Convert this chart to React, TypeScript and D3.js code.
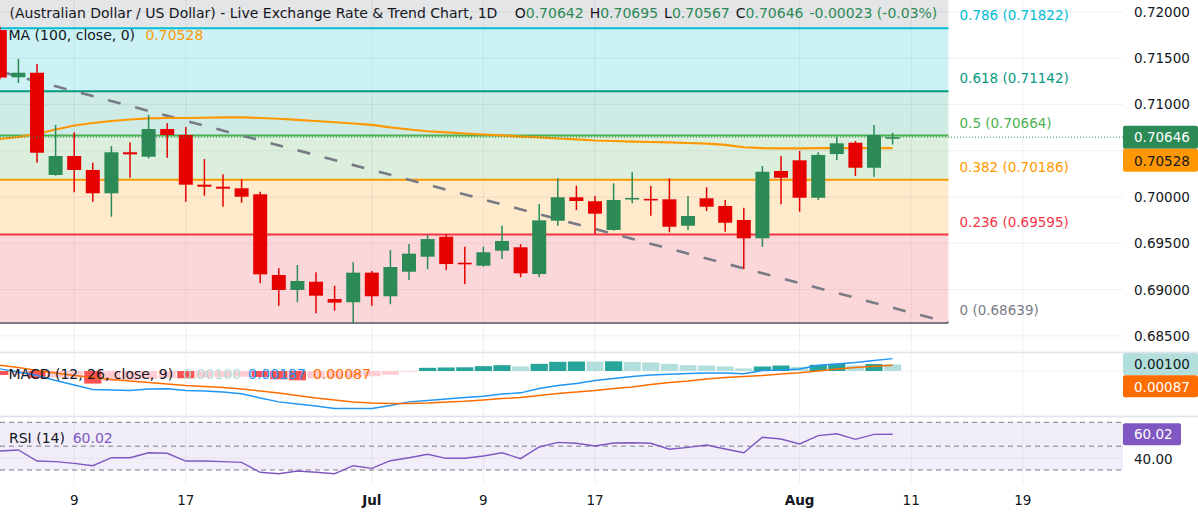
import React from "react";
import * as d3 from "d3";

const W = 1198;
const H = 517;

// ---------- data ----------
const opens = [
  0.71803, 0.71293, 0.71342, 0.70238, 0.70443, 0.70292, 0.7004, 0.70483, 0.70435, 0.70734,
  0.7067, 0.70133, 0.70111, 0.70094, 0.70029, 0.69158, 0.68996, 0.69085, 0.68898, 0.68863,
  0.69183, 0.68928, 0.69193, 0.69355, 0.69571, 0.6929, 0.69258, 0.6942, 0.69457, 0.69168,
  0.69744, 0.69997, 0.69954, 0.69644, 0.6998, 0.6998, 0.69975, 0.6969, 0.69986, 0.69903,
  0.69752, 0.69554, 0.70281, 0.70396, 0.69992, 0.70464, 0.70586, 0.70316, 0.70642,
];
const highs = [
  0.7184, 0.7149, 0.71436, 0.70778, 0.70699, 0.7037, 0.70551, 0.70591, 0.70886, 0.70796,
  0.70756, 0.7041, 0.70245, 0.70191, 0.70057, 0.6923, 0.69266, 0.69187, 0.69042, 0.69295,
  0.69201, 0.69428, 0.69492, 0.6959, 0.69597, 0.69463, 0.69463, 0.6969, 0.69492, 0.69924,
  0.70202, 0.70122, 0.70011, 0.70148, 0.70267, 0.70119, 0.70202, 0.70011, 0.70105, 0.69968,
  0.69884, 0.70335, 0.70443, 0.70497, 0.70483, 0.70651, 0.70605, 0.70778, 0.70695,
];
const lows = [
  0.7127, 0.71231, 0.7037, 0.7023, 0.70051, 0.69949, 0.69787, 0.70208, 0.70418, 0.70424,
  0.69949, 0.70014, 0.69895, 0.69938, 0.69068, 0.68826, 0.68863, 0.68744, 0.68772, 0.68636,
  0.68826, 0.68841, 0.69104, 0.69219, 0.69212, 0.6906, 0.69247, 0.6933, 0.69133, 0.69133,
  0.6969, 0.6986, 0.696, 0.69636, 0.69932, 0.69798, 0.69619, 0.69644, 0.69849, 0.69625,
  0.69222, 0.69463, 0.69921, 0.69841, 0.69968, 0.704, 0.70227, 0.70219, 0.70567,
];
const closes = [
  0.7129, 0.71342, 0.70478, 0.70443, 0.70292, 0.7004, 0.70483, 0.70461, 0.70734, 0.7067,
  0.70133, 0.70111, 0.7009, 0.70003, 0.69165, 0.68996, 0.69093, 0.68934, 0.68859, 0.69183,
  0.68928, 0.69244, 0.69388, 0.69546, 0.69276, 0.6928, 0.69403, 0.69525, 0.69176, 0.69748,
  0.69997, 0.69957, 0.6982, 0.69968, 0.6999, 0.6997, 0.69679, 0.69795, 0.69895, 0.69722,
  0.69554, 0.70273, 0.70208, 0.69992, 0.70454, 0.7058, 0.70316, 0.7067, 0.70646,
];
const ma100 = [
  0.70626, 0.70648, 0.7068, 0.70729, 0.70772, 0.70799, 0.70821, 0.70837, 0.7085, 0.70853,
  0.70853, 0.70856, 0.7086, 0.70861, 0.70853, 0.70845, 0.70832, 0.70821, 0.70807, 0.70794,
  0.70778, 0.70751, 0.70729, 0.7071, 0.70697, 0.70686, 0.70675, 0.70666, 0.70653, 0.70643,
  0.70632, 0.70623, 0.7061, 0.70605, 0.70599, 0.70594, 0.70589, 0.70583, 0.70577, 0.70562,
  0.70537, 0.70527, 0.70525, 0.70526, 0.70527, 0.70528, 0.70528, 0.70528, 0.70528,
];
const macdLine = [
  0.00033, -0.00015, -0.00068, -0.00143, -0.00211, -0.00279, -0.00287, -0.00294, -0.00271, -0.00268,
  -0.00294, -0.00302, -0.00317, -0.00344, -0.00407, -0.00465, -0.00498, -0.00528, -0.00566, -0.00566,
  -0.00566, -0.0052, -0.00465, -0.00445, -0.00422, -0.004, -0.0038, -0.00347, -0.00329, -0.00264,
  -0.00219, -0.00189, -0.00143, -0.00113, -0.00083, -0.0006, -0.00048, -0.00038, -0.0003, -0.0003,
  -0.00042, 0.00008, 0.00015, 0.0003, 0.00087, 0.00106, 0.00128, 0.00158, 0.00187,
];
const signalLine = [
  0.00087, 0.00053, 0.00008, -0.0003, -0.00068, -0.00098, -0.00128, -0.00151, -0.00173, -0.00196,
  -0.00219, -0.00234, -0.00249, -0.00271, -0.00302, -0.00332, -0.0037, -0.00407, -0.00437, -0.00468,
  -0.00483, -0.0049, -0.0049, -0.00483, -0.00468, -0.00457, -0.00437, -0.00415, -0.004, -0.0037,
  -0.00339, -0.00317, -0.00294, -0.00264, -0.00241, -0.00204, -0.00173, -0.00151, -0.00121, -0.00098,
  -0.00083, -0.00068, -0.00045, -0.00027, 0.0, 0.0003, 0.00053, 0.00071, 0.00087,
];
const macdHist = [
  -0.0006, -0.00055, -0.00105, -0.001, -0.00095, -0.0019, -0.0015, -0.00135, -0.0012, -0.00105,
  -0.0011, -0.001, -0.0009, -0.00085, -0.0009, -0.00125, -0.0014, -0.0011, -0.001, -0.0009,
  -0.0008, -0.00055, -0.00012, 0.00048, 0.00053, 0.00056, 0.00073, 0.00088, 0.00068, 0.00108,
  0.00138, 0.00143, 0.00141, 0.00146, 0.00138, 0.00128, 0.00108, 0.00088, 0.00083, 0.00068,
  0.00038, 0.00068, 0.00083, 0.00063, 0.00093, 0.00108, 0.00083, 0.00105, 0.001,
];
const rsi14 = [
  45.9, 46.8, 37.5, 37.0, 35.6, 33.6, 40.3, 40.3, 44.5, 44.0,
  37.5, 37.5, 37.0, 36.4, 28.1, 26.9, 29.2, 28.1, 26.9, 33.6,
  31.4, 37.8, 40.3, 43.2, 39.8, 39.8, 41.7, 44.5, 39.5, 49.3,
  53.2, 52.4, 50.1, 52.6, 52.9, 52.4, 47.4, 49.0, 51.0, 47.6,
  44.5, 57.4, 56.0, 51.8, 58.8, 60.4, 55.7, 59.9, 60.02,
];

const priceTicks = [0.72, 0.715, 0.71, 0.705, 0.7, 0.695, 0.69, 0.685];
const timeTickIdx = [4, 10, 20, 26, 32, 43, 49, 55];
const timeTickLabels = ["9", "17", "Jul", "9", "17", "Aug", "11", "19"];
const monthLabels = ["Jul", "Aug"];

const fibRatios = ["0", "0.236", "0.382", "0.5", "0.618", "0.786", "1"];
const fibPrices = [0.68639, 0.69595, 0.70186, 0.70664, 0.71142, 0.71822, 0.72689];
const fibColors = ["#787b86", "#f23645", "#ff9800", "#4caf50", "#089981", "#00bcd4", "#787b86"];
const fibEndIdx = 51;

const trendIdx = [0, 51];
const trendPrice = [0.71355, 0.68645];

const rsiBands = [70, 50, 30];
const rsiAxisTicks = [40];

const header = "(Australian Dollar / US Dollar) - Live Exchange Rate & Trend Chart, 1D";
const ohlcKeys = ["O", "H", "L", "C"];
const change = "-0.00023 (-0.03%)";
const macdTitle = "MACD (12, 26, close, 9)";
const maTitle = "MA (100, close, 0)";
const rsiTitle = "RSI (14)";

// ---------- styles ----------
const FONT = "'DejaVu Sans', Verdana, sans-serif";
const UP = "#2b8a56";
const DOWN = "#e60000";
const TEXT = "#131722";
const PR = 1123; // right edge of plot panes
const MAIN_BOTTOM = 352.5;
const MACD_BOTTOM = 416.5;

export default function App() {
  const n = closes.length;
  const x = d3.scaleLinear().domain([0, 48]).range([-0.2, 892.6]);
  const y = d3.scaleLinear().domain([0.7, 0.72]).range([197, 11.8]);
  const yM = d3.scaleLinear().domain([0, 0.001]).range([371, 364.37]);
  const yR = d3.scaleLinear().domain([30, 70]).range([470, 422.3]);

  const maPath = d3
    .line<number>()
    .x((_, i) => x(i))
    .y((d) => y(d))(ma100) as string;
  const macdPath = d3
    .line<number>()
    .x((_, i) => x(i))
    .y((d) => yM(d))(macdLine) as string;
  const sigPath = d3
    .line<number>()
    .x((_, i) => x(i))
    .y((d) => yM(d))(signalLine) as string;
  const rsiPath = d3
    .line<number>()
    .x((_, i) => x(i))
    .y((d) => yR(d))(rsi14) as string;
  const trendPath = d3
    .line<number>()
    .x((d) => x(d))
    .y((_, i) => y(trendPrice[i]))(trendIdx) as string;

  const fibRight = x(fibEndIdx);
  const last = n - 1;
  const lastClose = closes[last];
  const lastColor = lastClose >= opens[last] ? UP : DOWN;

  const histColor = (i: number) => {
    const v = macdHist[i];
    const prev = i > 0 ? macdHist[i - 1] : v > 0 ? v - 1 : v + 1;
    if (v >= 0) return v >= prev ? "#26a69a" : "#b2dfdb";
    return v <= prev ? "#ff5252" : "#ffcdd2";
  };

  const fmt5 = (v: number) => v.toFixed(5);
  const ohlcVals = [opens[last], highs[last], lows[last], closes[last]];

  const yLast = y(lastClose);
  const boxTop = yLast - 11.5;
  const boxBottom = yLast + 11.5 + 23;
  const yMaLabel = yLast + 11.5; // second label stacked under the first
  // axis labels hidden behind the price labels (as on the reference)
  const visibleTicks = priceTicks.filter((t) => y(t) + 8 < boxTop || y(t) - 8 > boxBottom);

  return (
    <div style={{ position: "absolute", left: 0, top: 0 }}>
      <svg width={W} height={H} style={{ display: "block", background: "#ffffff" }} fontFamily={FONT}>
        <defs>
          <clipPath id="mainClip">
            <rect x={0} y={0} width={PR} height={MAIN_BOTTOM} />
          </clipPath>
          <clipPath id="macdClip">
            <rect x={0} y={MAIN_BOTTOM} width={W} height={MACD_BOTTOM - MAIN_BOTTOM} />
          </clipPath>
          <clipPath id="macdPlotClip">
            <rect x={0} y={MAIN_BOTTOM} width={PR} height={MACD_BOTTOM - MAIN_BOTTOM} />
          </clipPath>
        </defs>

        {/* ---------- MAIN PANE ---------- */}
        <g clipPath="url(#mainClip)">
          {fibPrices.slice(1).map((p, k) => (
            <rect
              key={"ff" + k}
              x={0}
              y={y(p)}
              width={fibRight}
              height={y(fibPrices[k]) - y(p)}
              fill={fibColors[k + 1]}
              fillOpacity={0.2}
            />
          ))}
          {priceTicks.map((t) => (
            <line key={"hg" + t} x1={0} x2={PR} y1={y(t)} y2={y(t)} stroke="rgba(42,46,57,0.07)" strokeWidth={1} />
          ))}
          {timeTickIdx.map((t) => (
            <line key={"vg" + t} x1={x(t)} x2={x(t)} y1={0} y2={MAIN_BOTTOM} stroke="rgba(42,46,57,0.07)" strokeWidth={1} />
          ))}
          {fibPrices.slice(0, 6).map((p, k) => (
            <line key={"fl" + k} x1={0} x2={fibRight} y1={y(p)} y2={y(p)} stroke={fibColors[k]} strokeWidth={2} />
          ))}
          <path d={trendPath} fill="none" stroke="#787b86" strokeWidth={2.6} strokeDasharray="13 15" />
          <path d={maPath} fill="none" stroke="#ff9800" strokeWidth={2.2} />
          {closes.map((c, i) => {
            const o = opens[i];
            const col = c >= o ? UP : DOWN;
            const top = y(Math.max(o, c));
            const bot = y(Math.min(o, c));
            const h = Math.max(bot - top, 1.6);
            return (
              <g key={"c" + i}>
                <line x1={x(i)} x2={x(i)} y1={y(highs[i])} y2={y(lows[i])} stroke={col} strokeWidth={1.5} />
                <rect x={x(i) - 7} y={top} width={14} height={h} fill={col} />
              </g>
            );
          })}
          <line x1={0} x2={PR} y1={yLast} y2={yLast} stroke={lastColor} strokeWidth={1} strokeDasharray="1 2" />
        </g>

        {/* header legend */}
        <text x={9.5} y={13} fontSize={14} fill={TEXT} dominantBaseline="central">
          {header}
        </text>
        <text x={514.7} y={13} fontSize={14} dominantBaseline="central">
          {ohlcKeys.map((k, i) => (
            <React.Fragment key={k}>
              <tspan fill={TEXT} dx={i === 0 ? 0 : 6}>
                {k}
              </tspan>
              <tspan fill={lastColor}>{fmt5(ohlcVals[i])}</tspan>
            </React.Fragment>
          ))}
          <tspan fill={lastColor} dx={6}>
            {change}
          </tspan>
        </text>
        <text x={8.5} y={35} fontSize={14} fill={TEXT} dominantBaseline="central">
          {maTitle}
        </text>
        <text x={145.4} y={35} fontSize={14} fill="#ff9800" dominantBaseline="central">
          {fmt5(ma100[last])}
        </text>

        {/* fib labels */}
        {fibPrices.slice(0, 6).map((p, k) => (
          <text key={"flb" + k} x={959.5} y={y(p) - 13} fontSize={13.5} fill={fibColors[k]} dominantBaseline="central">
            {`${fibRatios[k]} (${fmt5(p)})`}
          </text>
        ))}

        {/* right price axis */}
        {visibleTicks.map((t) => (
          <text key={"pt" + t} x={1134} y={y(t)} fontSize={13.5} fill={TEXT} dominantBaseline="central">
            {fmt5(t)}
          </text>
        ))}
        <rect x={PR} y={boxTop} width={75} height={23} fill={lastColor} rx={2} />
        <text x={1134} y={yLast} fontSize={13.5} fill="#ffffff" dominantBaseline="central">
          {fmt5(lastClose)}
        </text>
        <rect x={PR} y={yMaLabel} width={75} height={23} fill="#ff9800" rx={2} />
        <text x={1134} y={yMaLabel + 12} fontSize={13.5} fill={TEXT} dominantBaseline="central">
          {fmt5(ma100[last])}
        </text>

        {/* ---------- MACD PANE ---------- */}
        <g clipPath="url(#macdPlotClip)">
          <line x1={0} x2={PR} y1={yM(0)} y2={yM(0)} stroke="rgba(42,46,57,0.06)" />
          {timeTickIdx.map((t) => (
            <line key={"mvg" + t} x1={x(t)} x2={x(t)} y1={MAIN_BOTTOM} y2={MACD_BOTTOM} stroke="rgba(42,46,57,0.07)" />
          ))}
          {macdHist.map((v, i) => (
            <rect
              key={"h" + i}
              x={x(i) - 8.6}
              y={yM(Math.max(v, 0))}
              width={17.2}
              height={Math.abs(yM(v) - yM(0))}
              fill={histColor(i)}
            />
          ))}
          <path d={macdPath} fill="none" stroke="#2196f3" strokeWidth={1.4} />
          <path d={sigPath} fill="none" stroke="#ff6d00" strokeWidth={1.4} />
        </g>
        <text x={8.5} y={373.5} fontSize={14} fill={TEXT} dominantBaseline="central">
          {macdTitle}
        </text>
        <text x={183} y={373.5} fontSize={14} fill="#b2dfdb" dominantBaseline="central">
          {fmt5(macdHist[last])}
        </text>
        <text x={248} y={373.5} fontSize={14} fill="#2196f3" dominantBaseline="central">
          {fmt5(macdLine[last])}
        </text>
        <text x={313} y={373.5} fontSize={14} fill="#ff6d00" dominantBaseline="central">
          {fmt5(signalLine[last])}
        </text>
        <g clipPath="url(#macdClip)">
          <rect x={PR} y={yM(macdHist[last]) - 11 - 22} width={75} height={22} fill="#2196f3" rx={2} />
          <rect x={PR} y={yM(macdHist[last]) - 11} width={75} height={22} fill="#b2dfdb" rx={2} />
          <text x={1134} y={yM(macdHist[last])} fontSize={13.5} fill={TEXT} dominantBaseline="central">
            {fmt5(macdHist[last])}
          </text>
          <rect x={PR} y={yM(macdHist[last]) + 11} width={75} height={22} fill="#ff6d00" rx={2} />
          <text x={1134} y={yM(macdHist[last]) + 22.5} fontSize={13.5} fill="#ffffff" dominantBaseline="central">
            {fmt5(signalLine[last])}
          </text>
        </g>

        {/* ---------- RSI PANE ---------- */}
        <rect x={0} y={yR(70)} width={PR} height={yR(30) - yR(70)} fill="#7e57c2" fillOpacity={0.1} />
        {rsiAxisTicks.map((t) => (
          <line key={"rg" + t} x1={0} x2={PR} y1={yR(t)} y2={yR(t)} stroke="rgba(42,46,57,0.06)" />
        ))}
        {timeTickIdx.map((t) => (
          <line key={"rvg" + t} x1={x(t)} x2={x(t)} y1={MACD_BOTTOM} y2={484} stroke="rgba(42,46,57,0.07)" />
        ))}
        {rsiBands.map((b) => (
          <line key={"rb" + b} x1={0} x2={PR} y1={yR(b)} y2={yR(b)} stroke="#787b86" strokeWidth={1} strokeDasharray="5 4" />
        ))}
        <path d={rsiPath} fill="none" stroke="#7e57c2" strokeWidth={1.4} />
        <text x={9} y={437.5} fontSize={14} fill={TEXT} dominantBaseline="central">
          {rsiTitle}
        </text>
        <text x={72.7} y={437.5} fontSize={14} fill="#7e57c2" dominantBaseline="central">
          {rsi14[last].toFixed(2)}
        </text>
        <rect x={PR} y={yR(rsi14[last]) - 11} width={58} height={22} fill="#7e57c2" rx={2} />
        <text x={1134} y={yR(rsi14[last])} fontSize={13.5} fill="#ffffff" dominantBaseline="central">
          {rsi14[last].toFixed(2)}
        </text>
        {rsiAxisTicks.map((t) => (
          <text key={"rt" + t} x={1134} y={yR(t) + 1} fontSize={13.5} fill={TEXT} dominantBaseline="central">
            {t.toFixed(2)}
          </text>
        ))}

        {/* pane separators */}
        <line x1={0} x2={W} y1={MAIN_BOTTOM} y2={MAIN_BOTTOM} stroke="#e0e3eb" strokeWidth={1.5} />
        <line x1={0} x2={W} y1={MACD_BOTTOM} y2={MACD_BOTTOM} stroke="#e0e3eb" strokeWidth={1.5} />

        {/* time axis */}
        {timeTickIdx.map((t, i) => (
          <text
            key={"tl" + t}
            x={x(t)}
            y={500}
            fontSize={13.5}
            fill={TEXT}
            textAnchor="middle"
            dominantBaseline="central"
            fontWeight={monthLabels.includes(timeTickLabels[i]) ? "bold" : "normal"}
          >
            {timeTickLabels[i]}
          </text>
        ))}
      </svg>
    </div>
  );
}
